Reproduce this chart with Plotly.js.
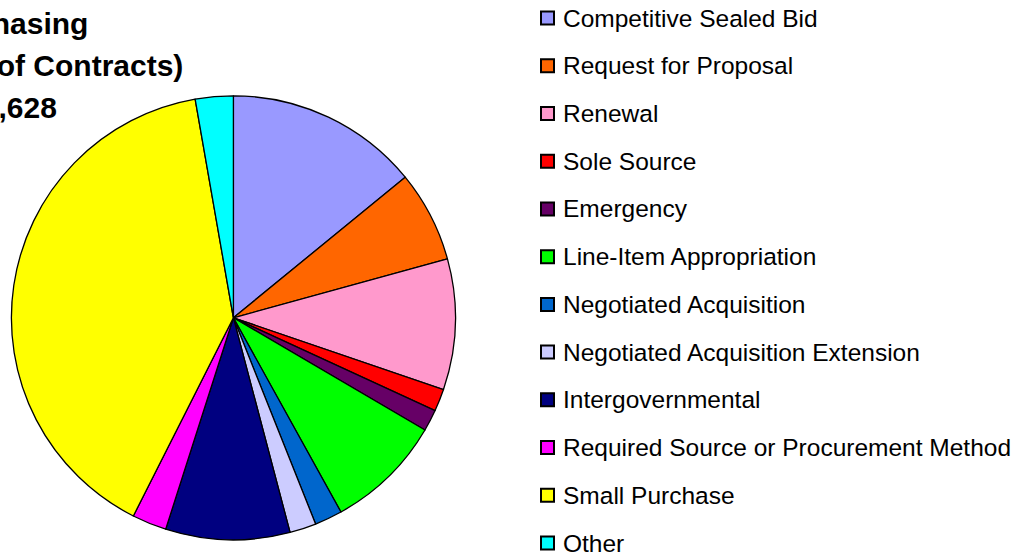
<!DOCTYPE html>
<html>
<head>
<meta charset="utf-8">
<script src="https://cdn.plot.ly/plotly-3.0.1.min.js"></script>
<style>html,body{margin:0;padding:0;background:#fff;}#chart{width:1016px;height:554px;}</style>
</head>
<body>
<div id="chart"></div>
<script>
// ---- data ----
var categories = [
  "Competitive Sealed Bid",
  "Request for Proposal",
  "Renewal",
  "Sole Source",
  "Emergency",
  "Line-Item Appropriation",
  "Negotiated Acquisition",
  "Negotiated Acquisition Extension",
  "Intergovernmental",
  "Required Source or Procurement Method",
  "Small Purchase",
  "Other"
];
var contracts = [511, 241, 345, 59, 57, 309, 73, 70, 328, 91, 1444, 100];
var sliceColors = [
  "#9999FF", "#FF6600", "#FF99CC", "#FF0000", "#660066", "#00FF00",
  "#0066CC", "#CCCCFF", "#000080", "#FF00FF", "#FFFF00", "#00FFFF"
];
var titleLines = ["Purchasing", "(Number of Contracts)", "Total: 3,628"];

// ---- layout helpers ----
var W = 1016, H = 554;
function px(x){ return x / W; }
function py(y){ return 1 - y / H; }
var FONT = "Liberation Sans, Arial, Helvetica, sans-serif";

var cx = 233.4, cy = 317.8, r = 222;

var trace = {
  type: "pie",
  labels: categories,
  values: contracts,
  sort: false,
  direction: "clockwise",
  rotation: 0,
  textinfo: "none",
  hoverinfo: "label+value+percent",
  showlegend: false,
  marker: { colors: sliceColors, line: { color: "#000000", width: 1.3 } },
  domain: { x: [px(cx - r), px(cx + r)], y: [py(cy + r), py(cy - r)] }
};

var annotations = [];
var shapes = [];

// title lines (partly cut off at the left edge, as in the reference)
var titleRight = [90, 185, 59];
var titleMid = [23, 65.5, 107.5];
titleLines.forEach(function(t, i){
  annotations.push({
    text: "<b>" + t + "</b>", xref: "paper", yref: "paper",
    x: px(titleRight[i]), y: py(titleMid[i]), xanchor: "right", yanchor: "middle",
    showarrow: false, font: { family: FONT, size: 30, color: "#000" }
  });
});

// legend
var legTop = 18, legStep = 47.73, boxL = 541, boxS = 13, textX = 561;
categories.forEach(function(c, i){
  var yc = legTop + i * legStep;
  shapes.push({
    type: "rect", xref: "paper", yref: "paper",
    x0: px(boxL), x1: px(boxL + boxS), y0: py(yc + boxS / 2), y1: py(yc - boxS / 2),
    fillcolor: sliceColors[i], line: { color: "#000", width: 2 }
  });
  annotations.push({
    text: c, xref: "paper", yref: "paper",
    x: px(textX), y: py(yc), xanchor: "left", yanchor: "middle",
    showarrow: false, font: { family: FONT, size: 24.5, color: "#000" }
  });
});

var layout = {
  width: W, height: H,
  margin: { l: 0, r: 0, t: 0, b: 0 },
  paper_bgcolor: "#fff", plot_bgcolor: "#fff",
  showlegend: false,
  annotations: annotations,
  shapes: shapes
};

Plotly.newPlot("chart", [trace], layout, { displayModeBar: false, staticPlot: true });
</script>
</body>
</html>
